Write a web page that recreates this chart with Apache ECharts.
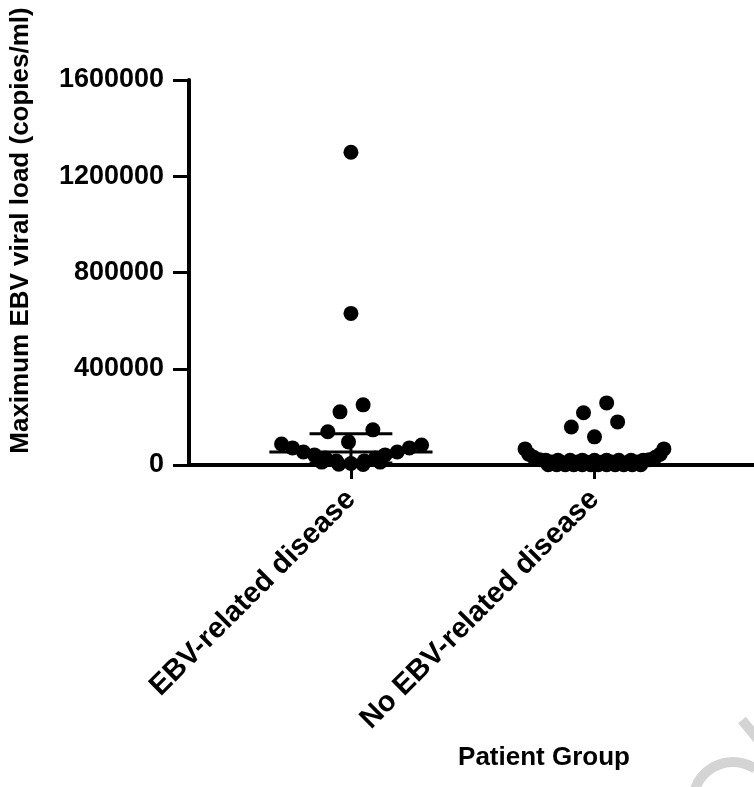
<!DOCTYPE html>
<html>
<head>
<meta charset="utf-8">
<script src="https://cdn.jsdelivr.net/npm/echarts@6/dist/echarts.min.js"></script>
<style>
  html, body { margin: 0; padding: 0; background: #fff; }
  #chart { width: 754px; height: 787px; }
</style>
</head>
<body>
<div id="chart"></div>
<script>
const groups = ['EBV-related disease', 'No EBV-related disease']
const yTicks = [0, 400000, 800000, 1200000, 1600000]

// EBV-related disease: max viral load + horizontal scatter offset (fraction of group spacing)
const ebvLoad = [1300000, 630000, 221000, 250000, 138000, 146000, 96000,
  87000, 71000, 54000, 42000, 29000, 17000,
  83000, 71000, 54000, 42000, 29000, 17000,
  3000, 2500, 12000, 12000, 6000]
const ebvJitter = [0, 0, -0.045, 0.05, -0.095, 0.09, -0.01,
  -0.285, -0.24, -0.195, -0.15, -0.105, -0.06,
  0.29, 0.24, 0.19, 0.14, 0.1, 0.055,
  -0.05, 0.05, -0.12, 0.12, 0]

// No EBV-related disease
const noEbvLoad = [258000, 217000, 158000, 179000, 117000,
  67000, 45000, 32000, 22000, 15000, 10000,
  67000, 45000, 32000, 22000, 15000, 10000,
  20000, 20000, 20000, 20000, 20000, 20000, 20000, 20000, 20000,
  12000, 12000, 12000, 12000, 12000, 12000, 12000, 12000, 12000, 12000, 12000,
  6000, 6000, 6000, 6000, 6000, 6000, 6000, 6000, 6000, 6000,
  1000, 1000, 1000, 1000, 1000, 1000, 1000, 1000, 1000, 1000, 1000, 1000]
const noEbvJitter = [0.05, -0.045, -0.095, 0.095, 0,
  -0.285, -0.27, -0.25, -0.225, -0.195, -0.16,
  0.285, 0.27, 0.25, 0.225, 0.195, 0.16,
  -0.2, -0.15, -0.1, -0.05, 0, 0.05, 0.1, 0.15, 0.2,
  -0.175, -0.14, -0.105, -0.07, -0.035, 0, 0.035, 0.07, 0.105, 0.14, 0.175,
  -0.16, -0.125, -0.09, -0.055, -0.02, 0.02, 0.055, 0.09, 0.125, 0.16,
  -0.19, -0.155, -0.12, -0.085, -0.05, -0.015, 0.015, 0.05, 0.085, 0.12, 0.155, 0.19]

// median with interquartile range per group
const medians = [54000, 2000]
const lowerQ = [8000, 1000]
const upperQ = [130000, 4000]

const font = { fontFamily: 'Liberation Sans, Arial, sans-serif', fontWeight: 'bold', fontSize: 26, color: '#000' }

const chart = echarts.init(document.getElementById('chart'))

const options = {
  animation: false,
  backgroundColor: '#fff',
  grid: { left: 183, right: 0, top: 80, bottom: 322 },
  xAxis: {
    type: 'value',
    min: 0.335,
    max: 2.655,
    name: 'Patient Group',
    nameLocation: 'middle',
    nameGap: 280,
    nameTextStyle: { ...font, padding: [0, 0, 0, 145] },
    axisLine: { show: true, onZero: false, lineStyle: { color: '#000', width: 4 } },
    axisTick: { show: true, customValues: [1, 2], length: 14, lineStyle: { color: '#000', width: 3 } },
    axisLabel: {
      ...font,
      fontSize: 29,
      customValues: [1, 2],
      rotate: 45,
      margin: 30,
      formatter: v => groups[Math.round(v) - 1]
    },
    splitLine: { show: false }
  },
  yAxis: {
    type: 'value',
    min: yTicks[0],
    max: yTicks[yTicks.length - 1],
    interval: yTicks[1] - yTicks[0],
    name: 'Maximum EBV viral load (copies/ml)',
    nameLocation: 'middle',
    nameGap: 155,
    nameTextStyle: { ...font, padding: [0, 0, 0, 84] },
    axisLine: { show: true, onZero: false, lineStyle: { color: '#000', width: 4 } },
    axisTick: { show: true, length: 16, lineStyle: { color: '#000', width: 3 } },
    axisLabel: { ...font, fontSize: 27, margin: 25, formatter: v => String(v) },
    splitLine: { show: false }
  },
  graphic: [
    // faint watermark fragment, bottom right
    { type: 'arc', shape: { cx: 733, cy: 802, r: 40, startAngle: 3.4, endAngle: 5.3, clockwise: true },
      style: { stroke: '#d4d4d4', lineWidth: 10, fill: null }, z: -1 },
    { type: 'line', shape: { x1: 742, y1: 720, x2: 760, y2: 742 },
      style: { stroke: '#d4d4d4', lineWidth: 10 }, z: -1 }
  ],
  series: [
    {
      type: 'scatter',
      symbolSize: 15,
      itemStyle: { color: '#000', opacity: 1 },
      data: ebvLoad.map((v, i) => [1 + ebvJitter[i], v])
    },
    {
      type: 'scatter',
      symbolSize: 15,
      itemStyle: { color: '#000', opacity: 1 },
      data: noEbvLoad.map((v, i) => [2 + noEbvJitter[i], v])
    },
    {
      type: 'custom',
      z: 5,
      data: medians.map((m, i) => [i + 1, m, lowerQ[i], upperQ[i]]),
      renderItem(params, api) {
        const g = api.value(0)
        const mid = api.coord([g, api.value(1)])
        const lo = api.coord([g, api.value(2)])
        const hi = api.coord([g, api.value(3)])
        const wide = api.size([0.335, 0])[0]
        const narrow = api.size([0.17, 0])[0]
        const st = { stroke: '#000', lineWidth: 3 }
        return {
          type: 'group',
          children: [
            { type: 'line', shape: { x1: mid[0] - wide, y1: mid[1], x2: mid[0] + wide, y2: mid[1] }, style: st },
            { type: 'line', shape: { x1: hi[0] - narrow, y1: hi[1], x2: hi[0] + narrow, y2: hi[1] }, style: st },
            { type: 'line', shape: { x1: lo[0] - narrow, y1: lo[1], x2: lo[0] + narrow, y2: lo[1] }, style: st },
            { type: 'line', shape: { x1: hi[0], y1: hi[1], x2: lo[0], y2: lo[1] }, style: st }
          ]
        }
      }
    }
  ]
}

chart.setOption(options)
</script>
</body>
</html>
